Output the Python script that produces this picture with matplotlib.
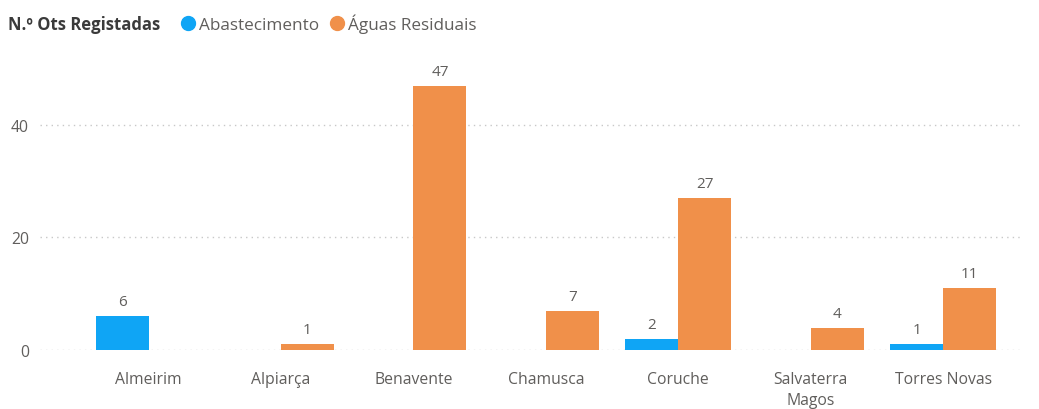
import matplotlib.pyplot as plt
from matplotlib.lines import Line2D
import numpy as np

plt.rcParams['font.family'] = ['Open Sans', 'DejaVu Sans']

municipios = ['Almeirim', 'Alpiarça', 'Benavente', 'Chamusca', 'Coruche',
              'Salvaterra\nMagos', 'Torres Novas']
abastecimento = [6, None, None, None, 2, None, 1]
aguas_residuais = [None, 1, 47, 7, 27, 4, 11]
yticks = [0, 20, 40]

blue = '#0FA5F5'
orange = '#F0904A'
grey = '#605E5C'

fig = plt.figure(figsize=(10.39, 4.10), dpi=100)
ax = fig.add_axes([0.0385, 0.1439, 0.9432, 0.686])

x = np.arange(len(municipios))
w = 0.4
a_vals = np.array([v if v is not None else np.nan for v in abastecimento])
r_vals = np.array([v if v is not None else np.nan for v in aguas_residuais])
ax.bar(x - w / 2, a_vals, width=w, color=blue, zorder=3)
ax.bar(x + w / 2, r_vals, width=w, color=orange, zorder=3)

# value labels
for xi, v in zip(x - w / 2, abastecimento):
    if v is not None:
        ax.annotate(f"{v}", xy=(xi, v), xytext=(0, 5), textcoords='offset points',
                    ha='center', va='bottom', fontsize=11, color=grey)
for xi, v in zip(x + w / 2, aguas_residuais):
    if v is not None:
        ax.annotate(f"{v}", xy=(xi, v), xytext=(0, 5), textcoords='offset points',
                    ha='center', va='bottom', fontsize=11, color=grey)

ax.set_xlim(-0.82, 6.58)
ax.set_ylim(0, 50)
ax.set_yticks(yticks)
ax.set_xticks(x, labels=municipios)
for lbl in ax.get_xticklabels():
    lbl.set_linespacing(1.45)
ax.tick_params(axis='both', length=0, labelsize=11.3, colors=grey)
ax.tick_params(axis='x', pad=15)
ax.tick_params(axis='y', pad=8)
ax.yaxis.grid(True, linestyle=(0, (1, 3)), color='#C8C8C8', linewidth=1, zorder=0)
for s in ax.spines.values():
    s.set_visible(False)

# legend
fig.text(0.008, 0.94, "N.º Ots Registadas", fontsize=12, fontweight='bold',
         color='#3A3A3A', va='center', ha='left')
handles = [Line2D([], [], marker='o', linestyle='none', color=blue, markersize=10),
           Line2D([], [], marker='o', linestyle='none', color=orange, markersize=10)]
fig.legend(handles, ['Abastecimento', 'Águas Residuais'], loc='center left',
           bbox_to_anchor=(0.173, 0.94), ncol=2, frameon=False, fontsize=12.3,
           handletextpad=0.15, columnspacing=0.5, handlelength=1.0,
           labelcolor=grey, borderaxespad=0, borderpad=0)

fig.savefig('out.png', dpi=100)
